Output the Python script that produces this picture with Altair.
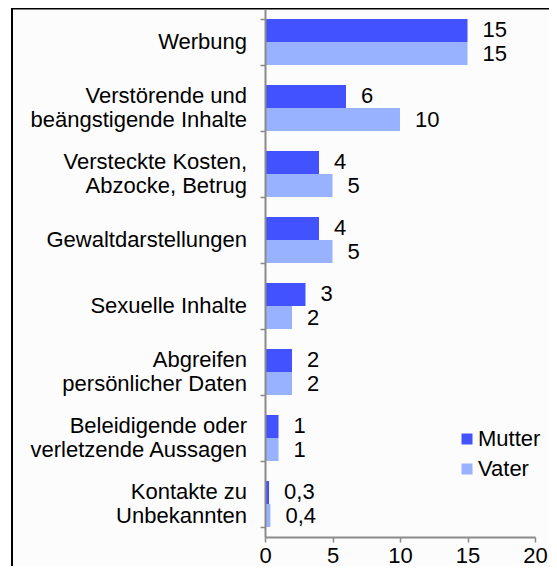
import altair as alt
import pandas as pd

categories = [
    "Werbung",
    "Verstörende und\nbeängstigende Inhalte",
    "Versteckte Kosten,\nAbzocke, Betrug",
    "Gewaltdarstellungen",
    "Sexuelle Inhalte",
    "Abgreifen\npersönlicher Daten",
    "Beleidigende oder\nverletzende Aussagen",
    "Kontakte zu\nUnbekannten",
]
mutter = [15, 6, 4, 4, 3, 2, 1, 0.3]
vater = [15, 10, 5, 5, 2, 2, 1, 0.4]
series = ["Mutter", "Vater"]
colors = ["#4252FF", "#99B2FF"]
x_ticks = [0, 5, 10, 15, 20]

rows = []
for c, m, v in zip(categories, mutter, vater):
    for s, val in zip(series, [m, v]):
        rows.append({"Kategorie": c, "Serie": s, "Wert": val,
                     "Label": f"{val:g}".replace(".", ",")})
df = pd.DataFrame(rows)
cat_df = pd.DataFrame({"Kategorie": categories})

FONT = "Liberation Sans"
FS = 22
AXIS_GRAY = "#8a8a8a"

y_enc = alt.Y(
    "Kategorie:N",
    sort=categories,
    scale=alt.Scale(paddingInner=0.303, paddingOuter=0.1515),
    axis=alt.Axis(
        title=None,
        labels=False,
        tickBand="extent",
        domainColor=AXIS_GRAY,
        domainWidth=2,
        tickColor=AXIS_GRAY,
        tickWidth=1.5,
        tickSize=5,
        grid=False,
        zindex=1,
    ),
)
yoff = alt.YOffset("Serie:N", sort=series)
x_enc = alt.X(
    "Wert:Q",
    scale=alt.Scale(domain=[0, 20]),
    axis=alt.Axis(
        title=None,
        values=x_ticks,
        labelFontSize=FS,
        labelFont=FONT,
        labelColor="black",
        labelPadding=3,
        labelFlush=False,
        domainColor=AXIS_GRAY,
        domainWidth=2,
        tickColor=AXIS_GRAY,
        tickWidth=1.5,
        tickSize=5,
        grid=False,
        zindex=1,
    ),
)

frame = alt.Chart(alt.Data(values=[{"f": 1}])).mark_rect(
    fill="#fcfcfc", stroke="black", strokeWidth=2
).encode(
    x=alt.value(-253), x2=alt.value(400), y=alt.value(-0.5), y2=alt.value(700)
)

bars = alt.Chart(df).mark_bar().encode(
    y=y_enc,
    yOffset=yoff,
    x=x_enc,
    color=alt.Color(
        "Serie:N",
        scale=alt.Scale(domain=series, range=colors),
        legend=alt.Legend(
            title=None,
            orient="none",
            legendX=191,
            legendY=419,
            symbolType="square",
            symbolSize=121,
            symbolStrokeWidth=0,
            labelFontSize=FS,
            labelFont=FONT,
            labelColor="black",
            labelOffset=0,
            rowPadding=8,
            padding=0,
        ),
    ),
)

text = alt.Chart(df).mark_text(
    align="left", baseline="middle", dx=15, fontSize=FS, font=FONT, color="black"
).encode(
    y=alt.Y("Kategorie:N", sort=categories),
    yOffset=yoff,
    x="Wert:Q",
    text="Label:N",
)

cat_labels = alt.Chart(cat_df).mark_text(
    align="right",
    baseline="middle",
    lineBreak="\n",
    lineHeight=24,
    fontSize=FS,
    font=FONT,
    color="black",
    dy={"expr": "indexof(datum.Kategorie, '\\n') >= 0 ? -12 : 0"},
).encode(
    y=alt.Y("Kategorie:N", sort=categories),
    x=alt.value(-18),
    text="Kategorie:N",
)

chart = alt.layer(frame, bars, text, cat_labels).properties(
    width=270,
    height=528,
    autosize=alt.AutoSizeParams(type="none"),
    padding={"left": 257, "top": 1, "right": 14, "bottom": 29},
    background="white",
).configure_view(stroke=None).configure(font=FONT)

chart.save("out.html", embed_options={"renderer": "svg", "actions": False})
